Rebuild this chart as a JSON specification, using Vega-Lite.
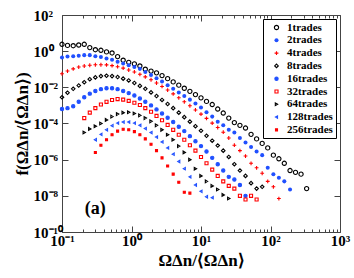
{
 "$schema": "https://vega.github.io/schema/vega-lite/v6.json",
 "width": 278, "height": 217,
 "autosize": {"type": "none"},
 "padding": {"left": 62, "top": 15, "right": 14, "bottom": 46},
 "config": {
  "view": {"stroke": "#444", "strokeWidth": 1},
  "font": "Liberation Serif",
  "axis": {"domain": false, "grid": false, "labelFont": "Liberation Serif", "labelFontWeight": "bold", "labelFontSize": 15, "labelColor": "#000", "tickColor": "#444", "tickWidth": 1, "titleFont": "Liberation Serif", "titleFontWeight": "bold", "titleFontSize": 17, "titleColor": "#000"},
  "legend": {"orient": "top-right", "offset": 4, "padding": 3, "strokeColor": "#000", "fillColor": "#fff", "labelFont": "Liberation Serif", "labelFontWeight": "bold", "labelFontSize": 11, "labelColor": "#000", "rowPadding": 0.8, "symbolOffset": 5, "labelOffset": 5, "symbolStrokeWidth": 1.1}
 },
 "datasets": {
  "pts": [
   {"s":"1trades","x":0.1,"y":2.4},{"s":"1trades","x":0.12,"y":2.09},{"s":"1trades","x":0.145,"y":2.0},{"s":"1trades","x":0.174,"y":2.19},{"s":"1trades","x":0.209,"y":2.4},{"s":"1trades","x":0.251,"y":1.58},{"s":"1trades","x":0.302,"y":1.2},{"s":"1trades","x":0.363,"y":1.12},{"s":"1trades","x":0.437,"y":0.912},{"s":"1trades","x":0.525,"y":0.794},{"s":"1trades","x":0.631,"y":0.501},{"s":"1trades","x":0.759,"y":0.316},{"s":"1trades","x":0.912,"y":0.24},{"s":"1trades","x":1.1,"y":0.2},{"s":"1trades","x":1.32,"y":0.151},{"s":"1trades","x":1.58,"y":0.1},{"s":"1trades","x":1.91,"y":0.0794},{"s":"1trades","x":2.29,"y":0.0631},{"s":"1trades","x":2.75,"y":0.0447},{"s":"1trades","x":3.31,"y":0.0302},{"s":"1trades","x":3.98,"y":0.02},{"s":"1trades","x":4.79,"y":0.0132},{"s":"1trades","x":5.75,"y":0.00891},{"s":"1trades","x":6.92,"y":0.00603},{"s":"1trades","x":8.32,"y":0.00398},{"s":"1trades","x":10,"y":0.00263},{"s":"1trades","x":12,"y":0.00166},{"s":"1trades","x":14.5,"y":0.00112},{"s":"1trades","x":17.4,"y":6.31e-4},{"s":"1trades","x":20.9,"y":3.8e-4},{"s":"1trades","x":25.1,"y":2.0e-4},{"s":"1trades","x":30.2,"y":1.12e-4},{"s":"1trades","x":36.3,"y":7.94e-5},{"s":"1trades","x":43.7,"y":5.62e-5},{"s":"1trades","x":52.5,"y":2.51e-5},{"s":"1trades","x":63.1,"y":1.41e-5},{"s":"1trades","x":75.9,"y":7.94e-6},{"s":"1trades","x":91.2,"y":4.47e-6},{"s":"1trades","x":110,"y":1.78e-6},{"s":"1trades","x":132,"y":1.12e-6},{"s":"1trades","x":158,"y":6.31e-7},{"s":"1trades","x":191,"y":2.51e-7},{"s":"1trades","x":229,"y":2.0e-7},{"s":"1trades","x":275,"y":1.58e-7},{"s":"1trades","x":331,"y":2.51e-8},
   {"s":"2trades","x":0.1,"y":0.447},{"s":"2trades","x":0.12,"y":0.501},{"s":"2trades","x":0.145,"y":0.525},{"s":"2trades","x":0.174,"y":0.562},{"s":"2trades","x":0.209,"y":0.603},{"s":"2trades","x":0.251,"y":0.603},{"s":"2trades","x":0.302,"y":0.525},{"s":"2trades","x":0.363,"y":0.479},{"s":"2trades","x":0.437,"y":0.398},{"s":"2trades","x":0.525,"y":0.331},{"s":"2trades","x":0.631,"y":0.263},{"s":"2trades","x":0.759,"y":0.209},{"s":"2trades","x":0.912,"y":0.166},{"s":"2trades","x":1.1,"y":0.132},{"s":"2trades","x":1.32,"y":0.105},{"s":"2trades","x":1.58,"y":0.0708},{"s":"2trades","x":1.91,"y":0.0479},{"s":"2trades","x":2.29,"y":0.0316},{"s":"2trades","x":2.75,"y":0.0209},{"s":"2trades","x":3.31,"y":0.0132},{"s":"2trades","x":3.98,"y":0.00832},{"s":"2trades","x":4.79,"y":0.00525},{"s":"2trades","x":5.75,"y":0.00331},{"s":"2trades","x":6.92,"y":0.00209},{"s":"2trades","x":8.32,"y":0.00126},{"s":"2trades","x":10,"y":7.59e-4},{"s":"2trades","x":12,"y":4.17e-4},{"s":"2trades","x":14.5,"y":2.4e-4},{"s":"2trades","x":17.4,"y":1.26e-4},{"s":"2trades","x":20.9,"y":7.94e-5},{"s":"2trades","x":25.1,"y":4.47e-5},{"s":"2trades","x":30.2,"y":3.16e-5},{"s":"2trades","x":36.3,"y":1.58e-5},{"s":"2trades","x":43.7,"y":8.91e-6},{"s":"2trades","x":52.5,"y":5.01e-6},{"s":"2trades","x":63.1,"y":2.82e-6},{"s":"2trades","x":75.9,"y":1.78e-6},{"s":"2trades","x":91.2,"y":3.55e-7},{"s":"2trades","x":110,"y":1.58e-7},{"s":"2trades","x":132,"y":1.0e-7},{"s":"2trades","x":158,"y":6.31e-8},{"s":"2trades","x":191,"y":2.24e-8},
   {"s":"4trades","x":0.1,"y":0.0562},{"s":"4trades","x":0.12,"y":0.0794},{"s":"4trades","x":0.145,"y":0.105},{"s":"4trades","x":0.174,"y":0.132},{"s":"4trades","x":0.209,"y":0.151},{"s":"4trades","x":0.251,"y":0.166},{"s":"4trades","x":0.302,"y":0.178},{"s":"4trades","x":0.363,"y":0.178},{"s":"4trades","x":0.437,"y":0.174},{"s":"4trades","x":0.525,"y":0.158},{"s":"4trades","x":0.631,"y":0.138},{"s":"4trades","x":0.759,"y":0.115},{"s":"4trades","x":0.912,"y":0.0912},{"s":"4trades","x":1.1,"y":0.0708},{"s":"4trades","x":1.32,"y":0.0525},{"s":"4trades","x":1.58,"y":0.038},{"s":"4trades","x":1.91,"y":0.0263},{"s":"4trades","x":2.29,"y":0.0174},{"s":"4trades","x":2.75,"y":0.0112},{"s":"4trades","x":3.31,"y":0.00708},{"s":"4trades","x":3.98,"y":0.00437},{"s":"4trades","x":4.79,"y":0.00263},{"s":"4trades","x":5.75,"y":0.00158},{"s":"4trades","x":6.92,"y":9.55e-4},{"s":"4trades","x":8.32,"y":5.62e-4},{"s":"4trades","x":10,"y":3.31e-4},{"s":"4trades","x":12,"y":1.91e-4},{"s":"4trades","x":14.5,"y":1.05e-4},{"s":"4trades","x":17.4,"y":6.03e-5},{"s":"4trades","x":20.9,"y":3.31e-5},{"s":"4trades","x":25.1,"y":1.58e-5},{"s":"4trades","x":30.2,"y":6.31e-6},{"s":"4trades","x":36.3,"y":3.16e-6},{"s":"4trades","x":43.7,"y":1.58e-6},{"s":"4trades","x":52.5,"y":6.31e-7},{"s":"4trades","x":63.1,"y":3.55e-7},{"s":"4trades","x":75.9,"y":1.78e-7},{"s":"4trades","x":91.2,"y":6.31e-8},{"s":"4trades","x":110,"y":3.16e-8},{"s":"4trades","x":132,"y":7.08e-9},
   {"s":"8trades","x":0.1,"y":0.00282},{"s":"8trades","x":0.12,"y":0.00501},{"s":"8trades","x":0.145,"y":0.00832},{"s":"8trades","x":0.174,"y":0.0126},{"s":"8trades","x":0.209,"y":0.0191},{"s":"8trades","x":0.251,"y":0.0282},{"s":"8trades","x":0.302,"y":0.0355},{"s":"8trades","x":0.363,"y":0.0417},{"s":"8trades","x":0.437,"y":0.0437},{"s":"8trades","x":0.525,"y":0.0417},{"s":"8trades","x":0.631,"y":0.0372},{"s":"8trades","x":0.759,"y":0.0302},{"s":"8trades","x":0.912,"y":0.024},{"s":"8trades","x":1.1,"y":0.0174},{"s":"8trades","x":1.32,"y":0.012},{"s":"8trades","x":1.58,"y":0.00832},{"s":"8trades","x":1.91,"y":0.00525},{"s":"8trades","x":2.29,"y":0.00331},{"s":"8trades","x":2.75,"y":0.002},{"s":"8trades","x":3.31,"y":0.0012},{"s":"8trades","x":3.98,"y":7.08e-4},{"s":"8trades","x":4.79,"y":3.98e-4},{"s":"8trades","x":5.75,"y":2.24e-4},{"s":"8trades","x":6.92,"y":1.26e-4},{"s":"8trades","x":8.32,"y":7.08e-5},{"s":"8trades","x":10,"y":3.98e-5},{"s":"8trades","x":12,"y":2.09e-5},{"s":"8trades","x":14.5,"y":1.12e-5},{"s":"8trades","x":17.4,"y":6.03e-6},{"s":"8trades","x":20.9,"y":3.16e-6},{"s":"8trades","x":25.1,"y":1.41e-6},{"s":"8trades","x":30.2,"y":5.62e-7},{"s":"8trades","x":36.3,"y":2.51e-7},{"s":"8trades","x":43.7,"y":1.26e-7},{"s":"8trades","x":52.5,"y":5.01e-8},{"s":"8trades","x":63.1,"y":2.51e-8},{"s":"8trades","x":75.9,"y":3.16e-8},
   {"s":"16trades","x":0.1,"y":6.31e-4},{"s":"16trades","x":0.12,"y":7.08e-4},{"s":"16trades","x":0.145,"y":8.91e-4},{"s":"16trades","x":0.174,"y":0.00158},{"s":"16trades","x":0.209,"y":0.00282},{"s":"16trades","x":0.251,"y":0.00447},{"s":"16trades","x":0.302,"y":0.00631},{"s":"16trades","x":0.363,"y":0.00794},{"s":"16trades","x":0.437,"y":0.00891},{"s":"16trades","x":0.525,"y":0.00891},{"s":"16trades","x":0.631,"y":0.00794},{"s":"16trades","x":0.759,"y":0.00631},{"s":"16trades","x":0.912,"y":0.00479},{"s":"16trades","x":1.1,"y":0.00355},{"s":"16trades","x":1.32,"y":0.0024},{"s":"16trades","x":1.58,"y":0.00158},{"s":"16trades","x":1.91,"y":0.001},{"s":"16trades","x":2.29,"y":6.03e-4},{"s":"16trades","x":2.75,"y":3.55e-4},{"s":"16trades","x":3.31,"y":2.09e-4},{"s":"16trades","x":3.98,"y":1.2e-4},{"s":"16trades","x":4.79,"y":6.61e-5},{"s":"16trades","x":5.75,"y":3.8e-5},{"s":"16trades","x":6.92,"y":2.0e-5},{"s":"16trades","x":8.32,"y":1.05e-5},{"s":"16trades","x":10,"y":5.62e-6},{"s":"16trades","x":12,"y":2.82e-6},{"s":"16trades","x":14.5,"y":1.26e-6},{"s":"16trades","x":17.4,"y":5.62e-7},{"s":"16trades","x":20.9,"y":2.51e-7},{"s":"16trades","x":25.1,"y":1.12e-7},{"s":"16trades","x":30.2,"y":7.94e-8},{"s":"16trades","x":36.3,"y":3.98e-8},{"s":"16trades","x":43.7,"y":1.0e-8},
   {"s":"32trades","x":0.209,"y":2.0e-4},{"s":"32trades","x":0.251,"y":3.98e-4},{"s":"32trades","x":0.302,"y":7.08e-4},{"s":"32trades","x":0.363,"y":0.00112},{"s":"32trades","x":0.437,"y":0.00158},{"s":"32trades","x":0.525,"y":0.002},{"s":"32trades","x":0.631,"y":0.00224},{"s":"32trades","x":0.759,"y":0.00209},{"s":"32trades","x":0.912,"y":0.00178},{"s":"32trades","x":1.1,"y":0.00141},{"s":"32trades","x":1.32,"y":0.00105},{"s":"32trades","x":1.58,"y":7.08e-4},{"s":"32trades","x":1.91,"y":4.47e-4},{"s":"32trades","x":2.29,"y":2.63e-4},{"s":"32trades","x":2.75,"y":1.51e-4},{"s":"32trades","x":3.31,"y":8.32e-5},{"s":"32trades","x":3.98,"y":4.47e-5},{"s":"32trades","x":4.79,"y":2.4e-5},{"s":"32trades","x":5.75,"y":1.26e-5},{"s":"32trades","x":6.92,"y":6.31e-6},{"s":"32trades","x":8.32,"y":3.16e-6},{"s":"32trades","x":10,"y":1.41e-6},{"s":"32trades","x":12,"y":6.31e-7},{"s":"32trades","x":14.5,"y":2.82e-7},{"s":"32trades","x":17.4,"y":1.26e-7},{"s":"32trades","x":20.9,"y":6.31e-8},{"s":"32trades","x":25.1,"y":3.55e-8},{"s":"32trades","x":30.2,"y":2.51e-8},{"s":"32trades","x":36.3,"y":1.0e-8},{"s":"32trades","x":43.7,"y":6.31e-9},{"s":"32trades","x":52.5,"y":1.0e-8},{"s":"32trades","x":63.1,"y":6.31e-9},
   {"s":"64trades","x":0.209,"y":3.16e-5},{"s":"64trades","x":0.251,"y":5.01e-5},{"s":"64trades","x":0.302,"y":7.08e-5},{"s":"64trades","x":0.363,"y":1.0e-4},{"s":"64trades","x":0.437,"y":1.58e-4},{"s":"64trades","x":0.525,"y":2.4e-4},{"s":"64trades","x":0.631,"y":3.31e-4},{"s":"64trades","x":0.759,"y":3.98e-4},{"s":"64trades","x":0.912,"y":4.17e-4},{"s":"64trades","x":1.1,"y":3.55e-4},{"s":"64trades","x":1.32,"y":2.82e-4},{"s":"64trades","x":1.58,"y":2.0e-4},{"s":"64trades","x":1.91,"y":1.32e-4},{"s":"64trades","x":2.29,"y":7.94e-5},{"s":"64trades","x":2.75,"y":4.47e-5},{"s":"64trades","x":3.31,"y":2.4e-5},{"s":"64trades","x":3.98,"y":1.26e-5},{"s":"64trades","x":4.79,"y":5.62e-6},{"s":"64trades","x":5.75,"y":2.51e-6},{"s":"64trades","x":6.92,"y":1.0e-6},{"s":"64trades","x":8.32,"y":3.16e-7},{"s":"64trades","x":10,"y":1.26e-7},{"s":"64trades","x":12,"y":6.31e-8},{"s":"64trades","x":14.5,"y":3.55e-8},{"s":"64trades","x":17.4,"y":2.24e-8},{"s":"64trades","x":20.9,"y":1.12e-8},{"s":"64trades","x":25.1,"y":7.08e-9},
   {"s":"128trades","x":0.302,"y":1.26e-5},{"s":"128trades","x":0.363,"y":2.51e-5},{"s":"128trades","x":0.437,"y":4.47e-5},{"s":"128trades","x":0.525,"y":7.59e-5},{"s":"128trades","x":0.631,"y":1.05e-4},{"s":"128trades","x":0.759,"y":1.2e-4},{"s":"128trades","x":0.912,"y":1.2e-4},{"s":"128trades","x":1.1,"y":1.05e-4},{"s":"128trades","x":1.32,"y":7.94e-5},{"s":"128trades","x":1.58,"y":5.25e-5},{"s":"128trades","x":1.91,"y":3.16e-5},{"s":"128trades","x":2.29,"y":1.78e-5},{"s":"128trades","x":2.75,"y":9.55e-6},{"s":"128trades","x":3.31,"y":4.47e-6},{"s":"128trades","x":3.98,"y":2.0e-6},{"s":"128trades","x":4.79,"y":7.94e-7},{"s":"128trades","x":5.75,"y":3.16e-7},{"s":"128trades","x":6.92,"y":1.12e-7},{"s":"128trades","x":8.32,"y":3.98e-8},{"s":"128trades","x":10,"y":1.78e-8},{"s":"128trades","x":12,"y":8.91e-9},{"s":"128trades","x":14.5,"y":7.94e-9},
   {"s":"256trades","x":0.302,"y":2.51e-6},{"s":"256trades","x":0.363,"y":6.31e-6},{"s":"256trades","x":0.437,"y":1.26e-5},{"s":"256trades","x":0.525,"y":2.4e-5},{"s":"256trades","x":0.631,"y":3.8e-5},{"s":"256trades","x":0.759,"y":4.79e-5},{"s":"256trades","x":0.912,"y":4.47e-5},{"s":"256trades","x":1.1,"y":3.55e-5},{"s":"256trades","x":1.32,"y":2.4e-5},{"s":"256trades","x":1.58,"y":1.41e-5},{"s":"256trades","x":1.91,"y":7.08e-6},{"s":"256trades","x":2.29,"y":3.16e-6},{"s":"256trades","x":2.75,"y":1.26e-6},{"s":"256trades","x":3.31,"y":4.47e-7},{"s":"256trades","x":3.98,"y":1.58e-7},{"s":"256trades","x":4.79,"y":5.62e-8},{"s":"256trades","x":5.75,"y":1.58e-8},{"s":"256trades","x":6.92,"y":1.41e-8}
  ],
  "ann": [{"label": "(a)", "x": 0.3, "y": 1.9e-9}]
 },
 "layer": [
  {
   "data": {"name": "pts"},
   "mark": {"type": "point", "opacity": 1, "strokeWidth": 1.1},
   "encoding": {
    "x": {"field": "x", "type": "quantitative", "scale": {"type": "log", "domain": [0.1, 1000], "nice": false},
     "axis": {"orient": "bottom", "values": [0.1,0.2,0.3,0.4,0.5,0.6,0.7,0.8,0.9,1,2,3,4,5,6,7,8,9,10,20,30,40,50,60,70,80,90,100,200,300,400,500,600,700,800,900,1000],
      "labelExpr": "(abs(log(datum.value)/LN10 - round(log(datum.value)/LN10)) < 0.001) ? '10' + replace(replace(replace(replace(replace('' + round(log(datum.value)/LN10), '-', '⁻'), '1', '¹'), '0', '⁰'), '2', '²'), '3', '³') : ''",
      "tickSize": {"condition": {"test": "abs(log(datum.value)/LN10 - round(log(datum.value)/LN10)) < 0.001", "value": -6}, "value": -3},
      "labelPadding": 7, "labelFlush": false, "labelOverlap": false, "title": "ΩΔn/⟨ΩΔn⟩", "titlePadding": 1}},
    "y": {"field": "y", "type": "quantitative", "scale": {"type": "log", "domain": [1e-10, 100], "nice": false},
     "axis": {"orient": "left", "values": [1e-10,1e-8,1e-6,1e-4,1e-2,1,100],
      "labelExpr": "'10' + replace(replace(replace(replace(replace(replace(replace(replace('' + round(log(datum.value)/LN10), '-', '⁻'), '1', '¹'), '0', '⁰'), '2', '²'), '3', '³'), '4', '⁴'), '6', '⁶'), '8', '⁸')",
      "tickSize": -6, "labelAlign": "left", "labelBaseline": "middle", "labelPadding": 35, "labelFlush": false, "labelOverlap": false,
      "title": "f(ΩΔn/⟨ΩΔn⟩)", "titlePadding": 2}},
    "shape": {"field": "s", "type": "nominal",
     "scale": {"domain": ["1trades","2trades","4trades","8trades","16trades","32trades","64trades","128trades","256trades"],
      "range": ["circle","circle","M-1,0L1,0M0,-1L0,1","diamond","circle","square","triangle-right","triangle-left","square"]},
     "legend": {"title": null}},
    "stroke": {"field": "s", "type": "nominal",
     "scale": {"domain": ["1trades","2trades","4trades","8trades","16trades","32trades","64trades","128trades","256trades"],
      "range": ["#000000","transparent","#ff0000","#000000","#2050ff","#ff0000","#000000","#2050ff","#ff0000"]},
     "legend": {"title": null}},
    "fill": {"field": "s", "type": "nominal",
     "scale": {"domain": ["1trades","2trades","4trades","8trades","16trades","32trades","64trades","128trades","256trades"],
      "range": ["transparent","#2050ff","transparent","transparent","#2050ff","transparent","transparent","transparent","#ff0000"]},
     "legend": {"title": null}},
    "size": {"field": "s", "type": "nominal",
     "scale": {"domain": ["1trades","2trades","4trades","8trades","16trades","32trades","64trades","128trades","256trades"],
      "range": [18, 4, 20, 20, 13, 15, 18, 18, 6]},
     "legend": {"title": null}}
   }
  },
  {
   "data": {"name": "ann"},
   "mark": {"type": "text", "font": "Liberation Serif", "fontWeight": "bold", "fontSize": 18, "align": "center", "baseline": "middle"},
   "encoding": {
    "x": {"field": "x", "type": "quantitative", "scale": {"type": "log", "domain": [0.1, 1000], "nice": false},
     "axis": {"orient": "top", "values": [0.1,0.2,0.3,0.4,0.5,0.6,0.7,0.8,0.9,1,2,3,4,5,6,7,8,9,10,20,30,40,50,60,70,80,90,100,200,300,400,500,600,700,800,900,1000],
      "labels": false, "title": null,
      "tickSize": {"condition": {"test": "abs(log(datum.value)/LN10 - round(log(datum.value)/LN10)) < 0.001", "value": -6}, "value": -3}}},
    "y": {"field": "y", "type": "quantitative", "scale": {"type": "log", "domain": [1e-10, 100], "nice": false},
     "axis": {"orient": "right", "values": [1e-10,1e-8,1e-6,1e-4,1e-2,1,100], "labels": false, "title": null, "tickSize": -6}},
    "text": {"field": "label"}
   }
  }
 ],
 "resolve": {"axis": {"x": "independent", "y": "independent"}}
}
